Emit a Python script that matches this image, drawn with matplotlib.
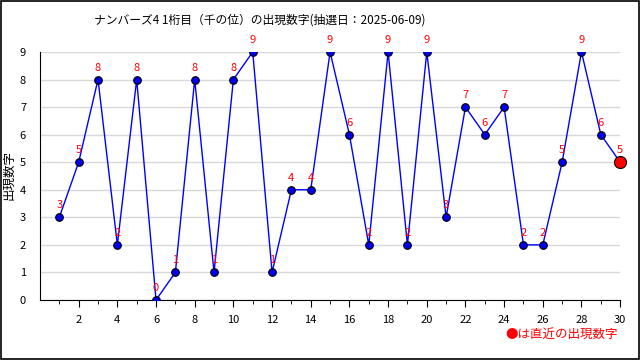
import matplotlib
matplotlib.use("Agg")
import matplotlib.pyplot as plt
from matplotlib.patches import Rectangle

plt.rcParams['font.family'] = ['Noto Sans CJK JP', 'DejaVu Sans']

draws = list(range(1, 31))
values = [3, 5, 8, 2, 8, 0, 1, 8, 1, 8, 9, 1, 4, 4, 9, 6, 2, 9, 2, 9, 3, 7, 6, 7, 2, 2, 5, 9, 6, 5]
title = "ナンバーズ4 1桁目（千の位）の出現数字(抽選日：2025-06-09)"
ylabel = "出現数字"
note = "●は直近の出現数字"

fig = plt.figure(figsize=(6.4, 3.6), dpi=100)
fig.patches.append(Rectangle((0.0008, 0.0014), 0.9976, 0.997, transform=fig.transFigure,
                             fill=False, edgecolor='black', linewidth=1.2))
ax = fig.add_axes([0.0625, 0.1667, 0.9065, 0.689])

ax.plot(draws, values, color='#0000ff', linewidth=1, zorder=2)
ax.scatter(draws[:-1], values[:-1], s=30, color='#0000ee', edgecolors='black', linewidths=0.8, zorder=3)
ax.scatter(draws[-1:], values[-1:], s=75, color='#ff0000', edgecolors='black', linewidths=0.8, zorder=4, clip_on=False)

for x, v in zip(draws, values):
    ax.annotate(str(v), (x, v), xytext=(0, 5), textcoords='offset points', ha='center', va='bottom',
                color='#ff0000', fontsize=8, clip_on=False, annotation_clip=False)

ax.set_xlim(0, 30)
ax.set_ylim(0, 9)
ax.set_yticks(range(0, 10))
ax.set_xticks(range(2, 31, 2))
ax.set_xticks(range(1, 31), minor=True)
ax.yaxis.grid(True, color='#d8d8d8', linewidth=1)
ax.set_axisbelow(True)
ax.spines['top'].set_visible(False)
ax.spines['right'].set_visible(False)
ax.tick_params(axis='y', length=0, labelsize=8, pad=10)
ax.tick_params(axis='x', which='major', length=5, labelsize=8, pad=6, direction='out')
ax.tick_params(axis='x', which='minor', length=3, direction='out')

fig.text(0.406, 0.945, title, ha='center', va='center', fontsize=8.5)
fig.text(0.014, 0.514, ylabel, ha='center', va='center', rotation=90, fontsize=9)
fig.text(0.966, 0.072, note, ha='right', va='center', fontsize=9, color='#ff0000')

fig.savefig('out.png', dpi=100)
